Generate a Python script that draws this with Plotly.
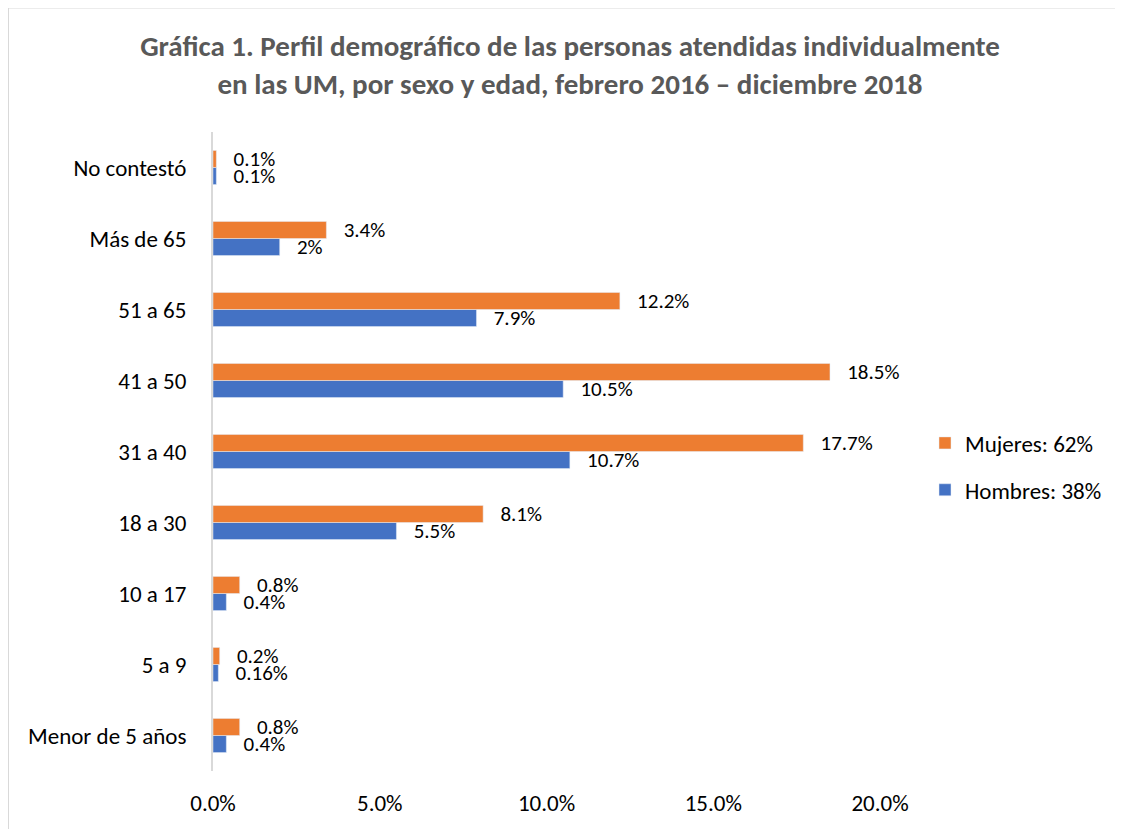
import plotly.graph_objects as go

# =========================
# DATA
# =========================
grupos = ["Menor de 5 años", "5 a 9", "10 a 17", "18 a 30", "31 a 40",
          "41 a 50", "51 a 65", "Más de 65", "No contestó"]
mujeres = [0.8, 0.2, 0.8, 8.1, 17.7, 18.5, 12.2, 3.4, 0.1]
hombres = [0.4, 0.16, 0.4, 5.5, 10.7, 10.5, 7.9, 2.0, 0.1]
etq_mujeres = ["0.8%", "0.2%", "0.8%", "8.1%", "17.7%", "18.5%", "12.2%", "3.4%", "0.1%"]
etq_hombres = ["0.4%", "0.16%", "0.4%", "5.5%", "10.7%", "10.5%", "7.9%", "2%", "0.1%"]
x_ticks = [0, 5, 10, 15, 20]
x_ticktext = ["0.0%", "5.0%", "10.0%", "15.0%", "20.0%"]

NARANJA = "#ED7D31"
AZUL = "#4472C4"
FUENTE = "Carlito, Lato, Calibri, sans-serif"
FS = 23      # axis / legend text
FS_ETQ = 21  # bar labels

# the page body has an 8px margin, so the figure is drawn 8px smaller
OFF = 8
W, H = 1123 - OFF, 829 - OFF
ML, MR, MT, MB = 213 - OFF, 243, 132 - OFF, 55

fig = go.Figure()

fig.add_trace(go.Bar(
    y=grupos, x=hombres, orientation="h",
    name="Hombres: 38%", legendgroup="h", legendrank=2,
    marker=dict(color=AZUL),
    text=etq_hombres, texttemplate="   %{text}", textposition="outside",
    constraintext="none",
    textfont=dict(size=FS_ETQ, color="#000000"),
    cliponaxis=False, hoverinfo="x+y",
))
fig.add_trace(go.Bar(
    y=grupos, x=mujeres, orientation="h",
    name="Mujeres: 62%", legendgroup="m", legendrank=1,
    marker=dict(color=NARANJA),
    text=etq_mujeres, texttemplate="   %{text}", textposition="outside",
    constraintext="none",
    textfont=dict(size=FS_ETQ, color="#000000"),
    cliponaxis=False, hoverinfo="x+y",
))

# frame around the chart (light gray, like the original image)
pw = W - ML - MR
ph = H - MT - MB
def px_x(p):
    return (p - OFF - ML) / pw
def px_y(p):
    return (H - MB - (p - OFF)) / ph

fig.add_shape(type="line", xref="paper", yref="paper",
              x0=px_x(8), x1=px_x(1130), y0=px_y(7), y1=px_y(7),
              line=dict(color="#D9D9D9", width=2))
fig.add_shape(type="line", xref="paper", yref="paper",
              x0=px_x(8), x1=px_x(8), y0=px_y(7), y1=px_y(835),
              line=dict(color="#D9D9D9", width=2))

fig.update_layout(
    width=W, height=H,
    margin=dict(l=ML, r=MR, t=MT, b=MB),
    paper_bgcolor="white", plot_bgcolor="white",
    font=dict(family=FUENTE, size=FS, color="#000000"),
    title=dict(
        text="<b>Gráfica 1. Perfil demográfico de las personas atendidas individualmente<br>"
             "en las UM, por sexo y edad, febrero 2016 – diciembre 2018</b>",
        xref="container", yref="container",
        x=(570 - OFF) / W, xanchor="center",
        y=1 - (56 - OFF) / H, yanchor="middle",
        font=dict(family=FUENTE, size=29, color="#595959"),
    ),
    barmode="group",
    bargap=0.52,
    bargroupgap=0,
    showlegend=True,
    legend=dict(
        x=px_x(925), xanchor="left", y=px_y(468), yanchor="middle",
        traceorder="grouped", tracegroupgap=14,
        font=dict(family=FUENTE, size=FS, color="#000000"),
        itemwidth=30,
    ),
)

fig.update_xaxes(
    range=[0, 20],
    tickvals=x_ticks, ticktext=x_ticktext,
    showgrid=False, zeroline=False, showline=False,
    ticks="", ticklabelstandoff=16,
    tickfont=dict(size=FS, color="#000000"),
)
fig.update_yaxes(
    type="category",
    showgrid=False, zeroline=False,
    showline=True, linecolor="#D9D9D9", linewidth=2,
    ticks="", ticklabelstandoff=20,
    tickfont=dict(size=FS, color="#000000"),
)

fig.write_html("out.html")
